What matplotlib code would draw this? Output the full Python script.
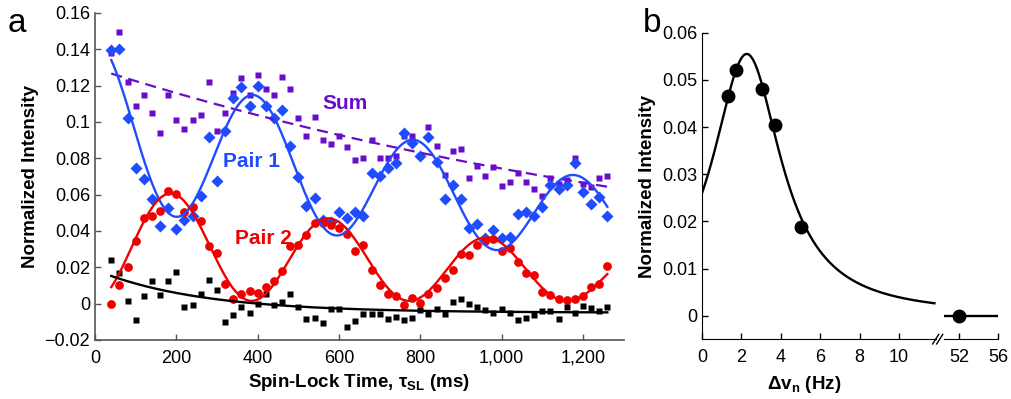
import matplotlib.pyplot as plt
import numpy as np

plt.rcParams['font.family'] = ['Liberation Sans', 'DejaVu Sans']

# ---- panel a data: spin-lock times (ms), 40..1260 every 20 ms
t = np.arange(40, 1261, 20)

sum_vals = [0.138, 0.1495, 0.122, 0.109, 0.115, 0.105, 0.094, 0.115, 0.101, 0.096,
            0.101, 0.104, 0.122, 0.095, 0.105, 0.116, 0.124, 0.115, 0.126, 0.118,
            0.115, 0.125, 0.118, 0.102, 0.092, 0.103, 0.090, 0.088, 0.092, 0.086,
            0.079, 0.080, 0.090, 0.080, 0.080, 0.081, 0.092, 0.092, 0.081, 0.097,
            0.087, 0.071, 0.084, 0.085, 0.069, 0.076, 0.070, 0.075, 0.065, 0.067,
            0.072, 0.067, 0.063, 0.059, 0.069, 0.066, 0.068, 0.080, 0.066, 0.064,
            0.069, 0.070]

pair1 = [0.1395, 0.140, 0.102, 0.0745, 0.0686, 0.0575, 0.0427, 0.0529, 0.0412, 0.0459,
         0.048, 0.0595, 0.0915, 0.0674, 0.0948, 0.113, 0.1195, 0.1087, 0.1198, 0.109,
         0.1023, 0.1067, 0.0869, 0.0698, 0.054, 0.0582, 0.0463, 0.0448, 0.0507, 0.0474,
         0.0503, 0.048, 0.0721, 0.0701, 0.0747, 0.0776, 0.0937, 0.0884, 0.081, 0.0915,
         0.078, 0.0578, 0.0653, 0.0576, 0.0419, 0.0441, 0.0361, 0.0405, 0.0361, 0.0366,
         0.0496, 0.0505, 0.048, 0.0534, 0.0653, 0.0631, 0.0655, 0.0774, 0.0617, 0.0549,
         0.0589, 0.0485]

pair2 = [0.0, 0.010, 0.0203, 0.0344, 0.0472, 0.048, 0.051, 0.062, 0.0604, 0.0503,
         0.0532, 0.0456, 0.0315, 0.0278, 0.0108, 0.0027, 0.0051, 0.007, 0.006, 0.0092,
         0.0126, 0.0181, 0.0317, 0.032, 0.0379, 0.0445, 0.0445, 0.0434, 0.0416, 0.0385,
         0.029, 0.0324, 0.0187, 0.0103, 0.0053, 0.004, -0.0009, 0.0029, 0.0004, 0.0053,
         0.0088, 0.0143, 0.0187, 0.0274, 0.0269, 0.0324, 0.0344, 0.0357, 0.0289, 0.0306,
         0.0229, 0.0166, 0.0155, 0.0064, 0.0046, 0.0027, 0.0022, 0.0026, 0.0044, 0.009,
         0.0108, 0.0207]

other = [0.0242, 0.017, 0.0013, -0.009, 0.004, 0.0126, 0.0049, 0.0126, 0.0172, -0.0016,
         -0.0005, 0.0053, 0.0128, 0.0073, -0.010, -0.0064, -0.002, -0.0049, 0.0, 0.0053,
         -0.0005, 0.0007, 0.0053, -0.002, -0.0084, -0.008, -0.0104, -0.0029, -0.0029, -0.013,
         -0.0095, -0.0059, -0.0059, -0.0059, -0.0084, -0.0075, -0.009, -0.008, -0.0037, -0.0059,
         -0.0027, -0.0059, 0.0009, 0.0027, 0.0, -0.0016, -0.0035, -0.0051, -0.0027, -0.0049,
         -0.009, -0.008, -0.0064, -0.004, -0.004, -0.0084, -0.002, -0.0053, -0.0015, -0.0026,
         -0.004, -0.002]

# fit parameters
sum_amp, sum_tau = 0.1295, 1802
p1_mean, p1_amp, p1_tau, p1_period, p1_t0 = 0.100, 0.046, 1630, 394, 395
p2_off, p2_amp, p2_tau, p2_period, p2_t0 = 0.0015, 0.0336, 1473, 388, 191
oth_off, oth_amp, oth_tau = -0.005, 0.0236, 258

# ---- panel b data
dnu = [1.32, 1.73, 3.03, 3.72, 5.0]
dnu_int = [0.0466, 0.052, 0.048, 0.0405, 0.0189]
far_nu, far_int = 52, 0.0
lor_peak, lor_x0, lor_w = 0.0555, 2.27, 2.13

purple = '#6a0dc8'
blue = '#1f4cff'
red = '#f00000'

fig = plt.figure(figsize=(10.11, 3.99), dpi=100)

# ================= panel a =================
ax = fig.add_axes([0.094, 0.148, 0.5228, 0.8195])
tf = np.linspace(40, 1260, 400)

ax.plot(t, sum_vals, 's', color=purple, ms=4.8, mec='none')
ax.plot(t, pair1, 'D', color=blue, ms=5.8, mec='none')
ax.plot(t, pair2, 'o', color=red, ms=6.3, mec='none')
ax.plot(t, other, 's', color='black', ms=4.8, mec='none')

ax.plot(tf, sum_amp * np.exp(-tf / sum_tau), '--', color=purple, lw=1.6, dashes=(5, 3))
ax.plot(tf, np.exp(-tf / p1_tau) * (p1_mean + p1_amp * np.cos(2 * np.pi * (tf - p1_t0) / p1_period)),
        color=blue, lw=1.7)
ax.plot(tf, p2_off + p2_amp * np.exp(-tf / p2_tau) * (1 + np.cos(2 * np.pi * (tf - p2_t0) / p2_period)),
        color=red, lw=1.7)
ax.plot(tf, oth_off + oth_amp * np.exp(-tf / oth_tau), color='black', lw=1.7)

ax.text(615, 0.110, 'Sum', color=purple, fontsize=15, fontweight='bold', ha='center', va='center')
ax.text(386, 0.0785, 'Pair 1', color=blue, fontsize=15, fontweight='bold', ha='center', va='center')
ax.text(413, 0.0357, 'Pair 2', color=red, fontsize=15, fontweight='bold', ha='center', va='center')

ax.set_xlim(0, 1300)
ax.set_ylim(-0.02, 0.16)
ax.set_xticks(np.arange(0, 1201, 200))
ax.set_xticklabels(['0', '200', '400', '600', '800', '1,000', '1,200'])
ax.set_yticks(np.arange(-0.02, 0.161, 0.02))
ax.set_yticklabels(['\u22120.02', '0', '0.02', '0.04', '0.06', '0.08', '0.1', '0.12', '0.14', '0.16'])
for s in ['top', 'right']:
    ax.spines[s].set_visible(False)
for s in ['left', 'bottom']:
    ax.spines[s].set_color('#555555')
    ax.spines[s].set_linewidth(1.2)
ax.tick_params(direction='in', length=4, width=1, color='#555555', labelsize=13)
ax.tick_params(axis='x', pad=7)
ax.set_xlabel('Spin-Lock Time, \u03c4$_\\mathregular{SL}$ (ms)', fontsize=13.5, fontweight='bold', labelpad=4)
ax.set_ylabel('Normalized Intensity', fontsize=13.5, fontweight='bold', labelpad=4)
fig.text(0.008, 0.92, 'a', fontsize=24, va='baseline')

# ================= panel b =================
b1 = fig.add_axes([0.6944, 0.1496, 0.2318, 0.7684])
b2 = fig.add_axes([0.9337, 0.1496, 0.0537, 0.7684])

xf = np.linspace(0, 11.8, 300)
b1.plot(xf, lor_peak / (1 + ((xf - lor_x0) / lor_w) ** 2), color='black', lw=1.7)
b1.plot(dnu, dnu_int, 'o', color='black', ms=9)
b2.plot([50.4, 56], [far_int, far_int], color='black', lw=1.7)
b2.plot([far_nu], [far_int], 'o', color='black', ms=9)

b1.set_xlim(0, 11.9)
b2.set_xlim(50.47, 56)
for b in (b1, b2):
    b.set_ylim(-0.005, 0.06)
    b.spines['top'].set_visible(False)
    b.spines['right'].set_visible(False)
    b.tick_params(direction='in', length=4, width=1, labelsize=13)
    b.tick_params(axis='x', pad=7)
b1.set_xticks([0, 2, 4, 6, 8, 10])
b1.set_yticks([0, 0.01, 0.02, 0.03, 0.04, 0.05, 0.06])
b1.set_yticklabels(['0', '0.01', '0.02', '0.03', '0.04', '0.05', '0.06'])
b2.set_xticks([52, 56])
b2.spines['left'].set_visible(False)
b2.set_yticks([])
b2.patch.set_alpha(0)
b1.set_ylabel('Normalized Intensity', fontsize=13.5, fontweight='bold', labelpad=4)
fig.text(0.795, 0.025, '\u0394v$_\\mathregular{n}$ (Hz)', fontsize=13.5, fontweight='bold', ha='center')

# break marks on the x axis
for dx in (-0.004, 0.0):
    fig.add_artist(plt.Line2D([0.9265 + dx, 0.9325 + dx], [0.138, 0.162], color='black', lw=1))
fig.text(0.636, 0.92, 'b', fontsize=24, va='baseline')

plt.savefig('out.png', dpi=100)
